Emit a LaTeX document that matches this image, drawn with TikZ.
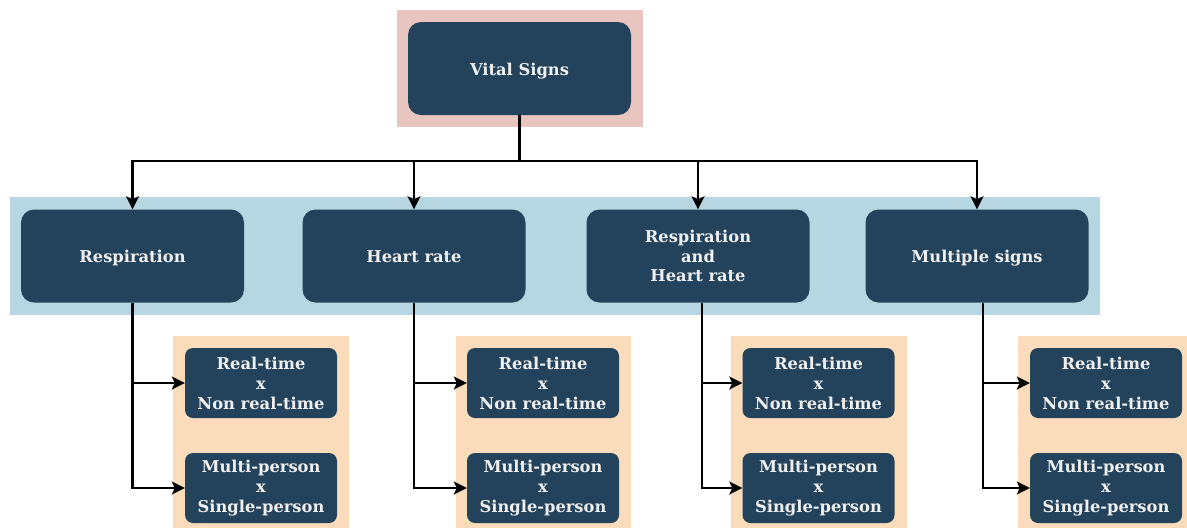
\documentclass[tikz,border=0pt]{standalone}
\usepackage{fontspec}
\setmainfont{DejaVu Serif}
\usetikzlibrary{arrows.meta,positioning,calc}
\definecolor{boxc}{HTML}{23435C}
\definecolor{pinkc}{HTML}{E8C5BF}
\definecolor{bluec}{HTML}{B6D6E2}
\definecolor{orangec}{HTML}{FADCBB}
\definecolor{txtc}{HTML}{F0F0F0}
\tikzset{
  bigbox/.style={rectangle, rounded corners=13pt, fill=boxc, draw=none, text=txtc,
    minimum width=223pt, minimum height=93pt, align=center, inner sep=0pt,
    font=\fontsize{16.3}{19.6}\selectfont\bfseries},
  oneline/.style={text height=16.8pt, text depth=3.2pt},
  smallbox/.style={rectangle, rounded corners=8pt, fill=boxc, draw=none, text=txtc,
    minimum width=152pt, minimum height=70pt, align=center, inner sep=0pt,
    font=\fontsize{16.3}{20}\selectfont\bfseries},
  arr/.style={line width=2.4pt, -{Stealth[length=13pt,width=13pt,inset=3pt]}},
  plainline/.style={line width=2.4pt},
}
\begin{document}
\begin{tikzpicture}[x=1pt,y=-1pt]
\useasboundingbox (0,0) rectangle (1187,528);
% backgrounds
\fill[pinkc] (397,10) rectangle (643,127);
\fill[bluec] (10,197) rectangle (1100,315);
\fill[orangec] (173,336) rectangle (349,528);
\fill[orangec] (456,336) rectangle (631,528);
\fill[orangec] (731,336) rectangle (907,528);
\fill[orangec] (1018,336) rectangle (1187,528);
% nodes
\node[bigbox,oneline] (vs) at (519.5,68.5) {Vital Signs};
\node[bigbox,oneline] (r) at (132.5,256) {Respiration};
\node[bigbox,oneline] (h) at (414,256) {Heart rate};
\node[bigbox] (rh) at (698,256) {Respiration\\and\\Heart rate};
\node[bigbox,oneline] (m) at (977,256) {Multiple signs};
\node[smallbox] (r1) at (261,383) {Real-time\\x\\Non real-time};
\node[smallbox] (r2) at (261,488) {Multi-person\\x\\Single-person};
\node[smallbox] (h1) at (543,383) {Real-time\\x\\Non real-time};
\node[smallbox] (h2) at (543,488) {Multi-person\\x\\Single-person};
\node[smallbox] (rh1) at (818.5,383) {Real-time\\x\\Non real-time};
\node[smallbox] (rh2) at (818.5,488) {Multi-person\\x\\Single-person};
\node[smallbox] (m1) at (1106,383) {Real-time\\x\\Non real-time};
\node[smallbox] (m2) at (1106,488) {Multi-person\\x\\Single-person};
% connectors
\coordinate (j) at (519.5,161);
\draw[plainline] (vs.south) -- (j);
\draw[arr] (j) -| (r.north);
\draw[arr] (j) -| (h.north);
\draw[arr] (j) -| (rh.north);
\draw[arr] (j) -| (m.north);
\draw[arr] (r.south) |- (r1.west);
\draw[arr] (r.south) |- (r2.west);
\draw[arr] (h.south) |- (h1.west);
\draw[arr] (h.south) |- (h2.west);
\draw[arr] ([xshift=4pt]rh.south) |- (rh1.west);
\draw[arr] ([xshift=4pt]rh.south) |- (rh2.west);
\draw[arr] ([xshift=6pt]m.south) |- (m1.west);
\draw[arr] ([xshift=6pt]m.south) |- (m2.west);
\end{tikzpicture}
\end{document}
